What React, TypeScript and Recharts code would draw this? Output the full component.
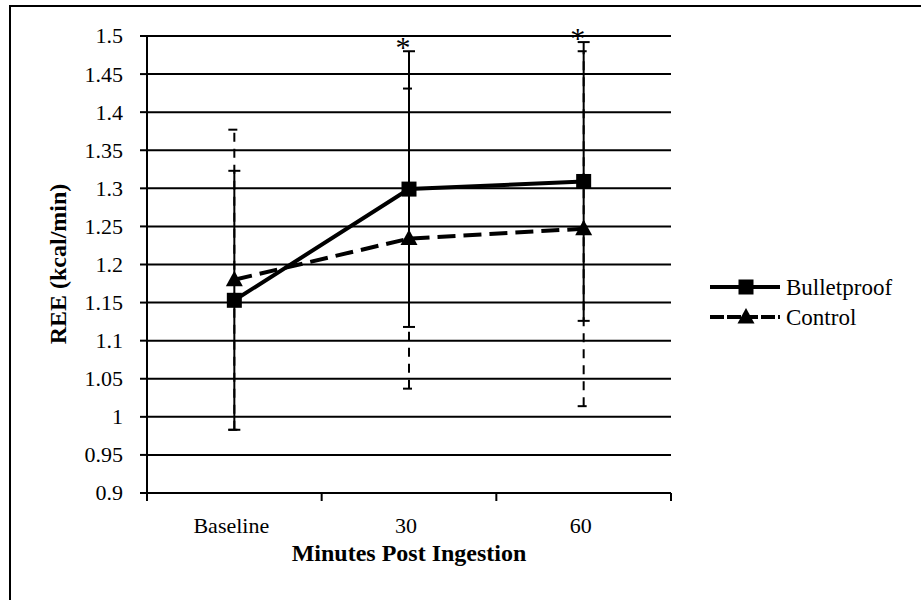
import React from "react";
import { LineChart, Line, XAxis, YAxis, CartesianGrid, ErrorBar, Legend } from "recharts";

// data
const categories = ["Baseline", "30", "60"];
const bulletproof = [1.153, 1.299, 1.309];
const bulletproofErr = [0.17, 0.181, 0.183];
const control = [1.18, 1.234, 1.247];
const controlErr = [0.197, 0.197, 0.233];
const significant = [false, true, true];
const yTicks = [0.9, 0.95, 1, 1.05, 1.1, 1.15, 1.2, 1.25, 1.3, 1.35, 1.4, 1.45, 1.5];

const data = categories.map((name, i) => ({
    name,
    bulletproof: bulletproof[i],
    bulletproofErr: bulletproofErr[i],
    control: control[i],
    controlErr: controlErr[i],
    star: significant[i] ? bulletproof[i] + bulletproofErr[i] : null,
}));

// layout
const W = 921;
const H = 600;
const PLOT_LEFT = 147;
const PLOT_RIGHT = 671;
const PLOT_TOP = 36;
const PLOT_BOTTOM = 493;
const BAND = (PLOT_RIGHT - PLOT_LEFT) / categories.length;
const FONT = '"Liberation Serif", "Times New Roman", serif';
const INK = "#000";

const fmt = (v: number) => String(Number(v.toFixed(2)));

function XTick(props: any) {
    const { x, payload, index } = props;
    const half = BAND / 2;
    return (
        <g>
            <line x1={x - half} x2={x - half} y1={PLOT_BOTTOM} y2={PLOT_BOTTOM + 8} stroke={INK} strokeWidth={2} />
            {index === categories.length - 1 && (
                <line x1={x + half} x2={x + half} y1={PLOT_BOTTOM} y2={PLOT_BOTTOM + 8} stroke={INK} strokeWidth={2} />
            )}
            <text x={x - 3} y={PLOT_BOTTOM + 40} textAnchor="middle" fontFamily={FONT} fontSize={22} fill={INK}>
                {payload.value}
            </text>
        </g>
    );
}

function YTick(props: any) {
    const { y, payload } = props;
    return (
        <g>
            <line x1={PLOT_LEFT - 7} x2={PLOT_LEFT} y1={y} y2={y} stroke={INK} strokeWidth={2} />
            <text x={PLOT_LEFT - 24} y={y} dy="0.34em" textAnchor="end" fontFamily={FONT} fontSize={22} fill={INK}>
                {fmt(payload.value)}
            </text>
        </g>
    );
}

function SquareDot(props: any) {
    const { cx, cy, index } = props;
    if (cx == null || cy == null) return <g key={`sq-${index}`} />;
    return <rect key={`sq-${index}`} x={cx - 7.5} y={cy - 7.5} width={15} height={15} fill={INK} />;
}

function TriangleDot(props: any) {
    const { cx, cy, index } = props;
    if (cx == null || cy == null) return <g key={`tr-${index}`} />;
    return <path key={`tr-${index}`} d={`M${cx},${cy - 9} L${cx + 8.5},${cy + 6.5} L${cx - 8.5},${cy + 6.5} Z`} fill={INK} />;
}

function StarDot(props: any) {
    const { cx, cy, index, payload } = props;
    if (cx == null || cy == null || payload.star == null) return <g key={`st-${index}`} />;
    return (
        <text key={`st-${index}`} x={cx - 6} y={cy + 6} textAnchor="middle" fontFamily={FONT} fontSize={30} fill={INK}>
            *
        </text>
    );
}

function renderLegend() {
    return (
        <svg width={221} height={70}>
            <line x1={10} x2={80} y1={17} y2={17} stroke={INK} strokeWidth={4} />
            <rect x={38.5} y={9.5} width={15} height={15} fill={INK} />
            <text x={86} y={17} dy="0.34em" fontFamily={FONT} fontSize={23} fill={INK}>Bulletproof</text>
            <line x1={10} x2={80} y1={47} y2={47} stroke={INK} strokeWidth={4} strokeDasharray="14 3" />
            <path d="M46,38 L54.5,53.5 L37.5,53.5 Z" fill={INK} />
            <text x={86} y={47} dy="0.34em" fontFamily={FONT} fontSize={23} fill={INK}>Control</text>
        </svg>
    );
}

export default function App() {
    return (
        <div style={{ position: "absolute", left: 0, top: 0, width: W, height: H, overflow: "hidden", background: "#fff" }}>
            <div
                style={{
                    position: "absolute",
                    left: 9,
                    top: 5,
                    width: W,
                    height: H,
                    borderLeft: "2px solid #000",
                    borderTop: "2px solid #000",
                }}
            />
            <LineChart
                width={W}
                height={H}
                data={data}
                margin={{ top: PLOT_TOP, right: W - PLOT_RIGHT, bottom: 0, left: 0 }}
            >
                <CartesianGrid horizontal vertical={false} stroke={INK} strokeWidth={2} strokeOpacity={1} />
                <XAxis
                    dataKey="name"
                    scale="band"
                    height={H - PLOT_BOTTOM}
                    axisLine={{ stroke: INK, strokeWidth: 2 }}
                    tickLine={false}
                    tick={<XTick />}
                    interval={0}
                    label={() => (
                        <text x={(PLOT_LEFT + PLOT_RIGHT) / 2} y={561} textAnchor="middle" fontFamily={FONT} fontSize={24} fontWeight="bold" fill={INK}>
                            Minutes Post Ingestion
                        </text>
                    )}
                />
                <YAxis
                    width={PLOT_LEFT}
                    domain={[0.9, 1.5]}
                    ticks={yTicks}
                    axisLine={{ stroke: INK, strokeWidth: 2 }}
                    tickLine={false}
                    tick={<YTick />}
                    interval={0}
                    label={() => (
                        <text
                            x={58}
                            y={264}
                            transform="rotate(-90 58 264)"
                            textAnchor="middle"
                            dominantBaseline="central"
                            fontFamily={FONT}
                            fontSize={24}
                            fontWeight="bold"
                            fill={INK}
                        >
                            REE (kcal/min)
                        </text>
                    )}
                />
                <Legend
                    layout="vertical"
                    align="center"
                    verticalAlign="middle"
                    content={renderLegend}
                    wrapperStyle={{ left: 700, top: 270, width: 221, height: 70 }}
                />
                <Line
                    dataKey="control"
                    stroke={INK}
                    strokeWidth={4}
                    strokeDasharray="18 8"
                    dot={TriangleDot}
                    activeDot={false}
                    isAnimationActive={false}
                >
                    <ErrorBar dataKey="controlErr" width={6} stroke={INK} strokeWidth={2} strokeDasharray="9 7" />
                </Line>
                <Line
                    dataKey="bulletproof"
                    stroke={INK}
                    strokeWidth={4}
                    dot={SquareDot}
                    activeDot={false}
                    isAnimationActive={false}
                >
                    <ErrorBar dataKey="bulletproofErr" width={6} stroke={INK} strokeWidth={2} />
                </Line>
                <Line
                    dataKey="star"
                    stroke="none"
                    dot={StarDot}
                    activeDot={false}
                    legendType="none"
                    isAnimationActive={false}
                />
            </LineChart>
        </div>
    );
}
